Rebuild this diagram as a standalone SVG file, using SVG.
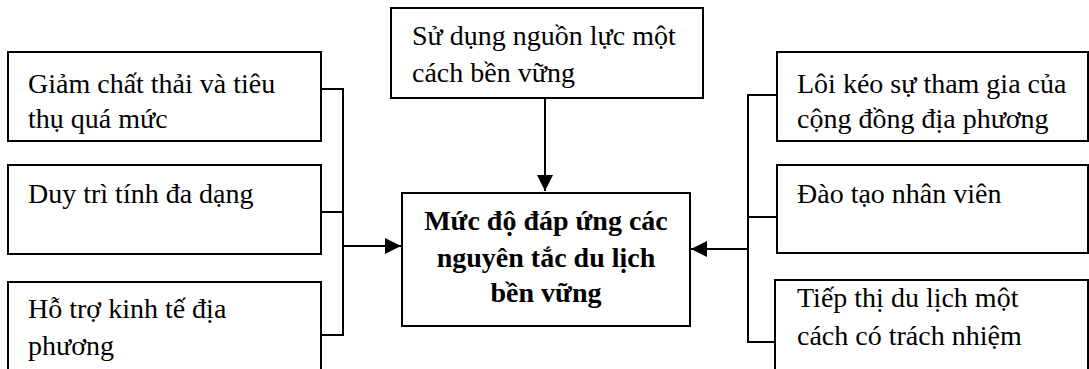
<svg xmlns="http://www.w3.org/2000/svg" width="1089" height="369" viewBox="0 0 1089 369">
<style>
.box{fill:#fff;stroke:#000;stroke-width:2}
.t{font-family:"Liberation Serif","Times New Roman",serif;font-size:28px;fill:#000}
.b{font-weight:bold;text-anchor:middle}
.c{fill:none;stroke:#000;stroke-width:2}
</style>
<defs>
<marker id="ah" viewBox="0 0 10 10" refX="10" refY="5" markerWidth="8" markerHeight="8" markerUnits="strokeWidth" orient="auto">
<path d="M0,0 L10,5 L0,10 Z" fill="#000"/>
</marker>
</defs>
<rect width="1089" height="369" fill="#fff"/>
<g id="connectors">
<polyline class="c" points="321,89 343,89 343,335 321,335"/>
<line class="c" x1="321" y1="212" x2="343" y2="212"/>
<line class="c" x1="343" y1="246" x2="401" y2="246" marker-end="url(#ah)"/>
<polyline class="c" points="777,95 748,95 748,342 775,342"/>
<line class="c" x1="748" y1="217" x2="777" y2="217"/>
<line class="c" x1="748" y1="249" x2="691" y2="249" marker-end="url(#ah)"/>
<line class="c" x1="545" y1="98" x2="545" y2="191" marker-end="url(#ah)"/>
</g>
<g id="n-top">
<rect class="box" x="391" y="8" width="312" height="90"/>
<text class="t" x="412" y="45">Sử dụng nguồn lực một</text>
<text class="t" x="412" y="82">cách bền vững</text>
</g>
<g id="n-center">
<rect class="box" x="402" y="193" width="288" height="133"/>
<text class="t b" x="546" y="230">Mức độ đáp ứng các</text>
<text class="t b" x="546" y="267">nguyên tắc du lịch</text>
<text class="t b" x="546" y="302">bền vững</text>
</g>
<g id="n-l1">
<rect class="box" x="8" y="52" width="313" height="89"/>
<text class="t" x="28" y="93">Giảm chất thải và tiêu</text>
<text class="t" x="28" y="128">thụ quá mức</text>
</g>
<g id="n-l2">
<rect class="box" x="8" y="165" width="313" height="89"/>
<text class="t" x="28" y="203">Duy trì tính đa dạng</text>
</g>
<g id="n-l3">
<rect class="box" x="8" y="282" width="313" height="110"/>
<text class="t" x="28" y="318">Hỗ trợ kinh tế địa</text>
<text class="t" x="28" y="355">phương</text>
</g>
<g id="n-r1">
<rect class="box" x="777" y="52" width="311" height="89"/>
<text class="t" x="797" y="93">Lôi kéo sự tham gia của</text>
<text class="t" x="797" y="128">cộng đồng địa phương</text>
</g>
<g id="n-r2">
<rect class="box" x="777" y="165" width="311" height="88"/>
<text class="t" x="797" y="203">Đào tạo nhân viên</text>
</g>
<g id="n-r3">
<rect class="box" x="775" y="280" width="313" height="110"/>
<text class="t" x="797" y="307">Tiếp thị du lịch một</text>
<text class="t" x="797" y="345">cách có trách nhiệm</text>
</g>
</svg>
